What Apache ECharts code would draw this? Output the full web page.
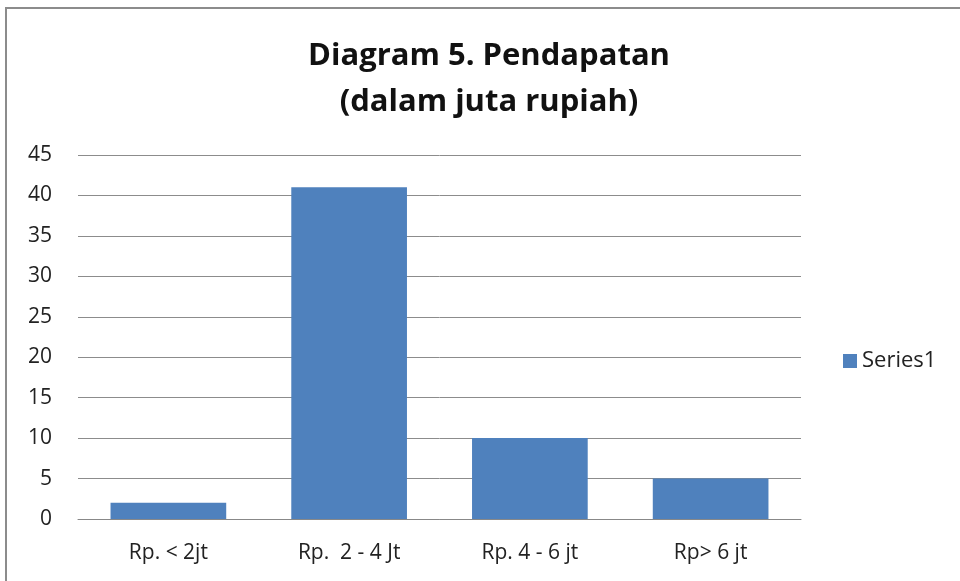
<!DOCTYPE html>
<html>
<head>
<meta charset="utf-8">
<script src="https://cdn.jsdelivr.net/npm/echarts@6/dist/echarts.min.js"></script>
<style>
  html, body { margin: 0; padding: 0; background: #fff; overflow: hidden; }
  #frame { position: absolute; left: 5px; top: 7px; width: 1000px; height: 620px; border: 2px solid #8c8c8c; box-sizing: border-box; }
  #chart { position: absolute; left: 0; top: 0; width: 960px; height: 581px; }
</style>
</head>
<body>
<div id="frame"></div>
<div id="chart"></div>
<script>
// data
var categories = ['Rp. < 2jt', 'Rp.  2 - 4 Jt', 'Rp. 4 - 6 jt', 'Rp> 6 jt'];
var series1 = [2, 41, 10, 5];
var yTicks = { min: 0, max: 45, interval: 5 };

var fontFam = '"Open Sans", "Noto Sans", sans-serif';
var chart = echarts.init(document.getElementById('chart'));

var option = {
  backgroundColor: 'transparent',
  animation: false,
  title: {
    text: 'Diagram 5. Pendapatan\n(dalam juta rupiah)',
    left: 484,
    top: 28,
    textAlign: 'center',
    textStyle: { fontFamily: fontFam, fontSize: 31, fontWeight: 'bold', color: '#111', lineHeight: 46 }
  },
  legend: {
    data: ['Series1'],
    left: 838,
    top: 345,
    orient: 'vertical',
    icon: 'rect',
    itemWidth: 14,
    itemHeight: 14,
    itemGap: 5,
    textStyle: { fontFamily: fontFam, fontSize: 22, color: '#222' }
  },
  grid: { left: 78, right: 159, top: 155, bottom: 62 },
  xAxis: {
    type: 'category',
    data: categories,
    axisLine: { lineStyle: { color: '#888', width: 1 } },
    axisTick: { show: false },
    axisLabel: { fontFamily: fontFam, fontSize: 21, color: '#222', margin: 24 }
  },
  yAxis: {
    type: 'value',
    min: yTicks.min,
    max: yTicks.max,
    interval: yTicks.interval,
    axisLine: { show: false },
    axisTick: { show: false },
    axisLabel: { fontFamily: fontFam, fontSize: 21, color: '#222', margin: 26 },
    splitLine: { lineStyle: { color: '#8c8c8c', width: 1 } }
  },
  series: [{
    name: 'Series1',
    type: 'bar',
    data: series1,
    barCategoryGap: '36%',
    itemStyle: { color: '#4f81bd' }
  }]
};
chart.setOption(option);
</script>
</body>
</html>
